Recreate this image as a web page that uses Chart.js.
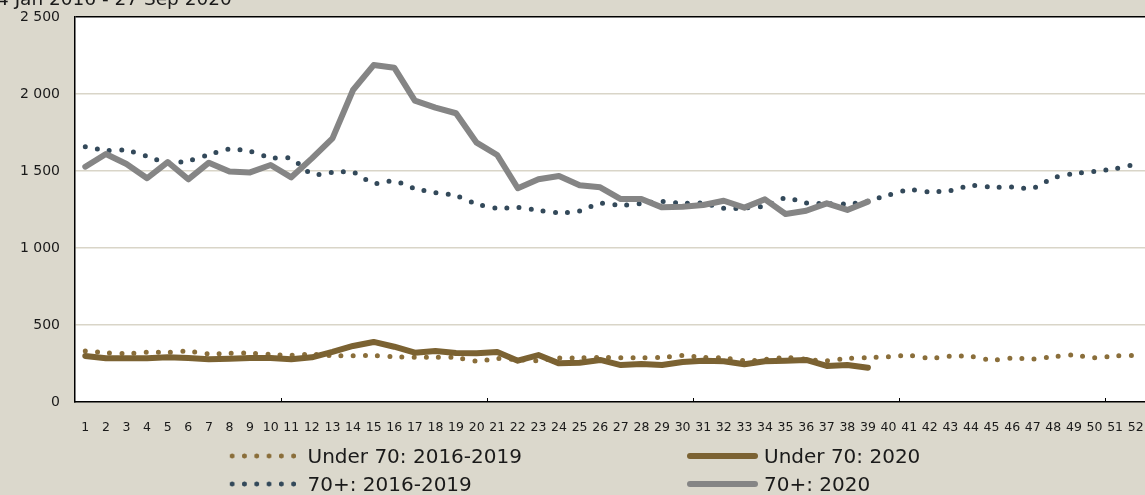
<!DOCTYPE html>
<html>
<head>
<meta charset="utf-8">
<script src="https://cdn.jsdelivr.net/npm/chart.js@4.4.1/dist/chart.umd.min.js"></script>
<style>
    html, body {
        margin: 0;
        padding: 0;
        width: 1145px;
        height: 495px;
        overflow: hidden;
        background: #dbd8cc;
        font-family: "DejaVu Sans", sans-serif;
    }
    #wrap {
        position: absolute;
        left: 0;
        top: 0;
        width: 1160px;
        height: 495px;
    }
    #title {
        position: absolute;
        left: -3px;
        top: -12px;
        font-size: 18.5px;
        color: #1a1a1a;
        white-space: nowrap;
    }
    .item {
        position: absolute;
        height: 24px;
        display: flex;
        align-items: center;
        font-size: 20px;
        color: #1a1a1a;
        white-space: nowrap;
    }
    .dots {
        height: 6px;
        width: 74px;
        margin-right: 8px;
        background-repeat: repeat-x;
        background-size: 12.3px 6px;
    }
    .solid {
        height: 6px;
        width: 71px;
        margin-right: 6px;
        border-radius: 3px;
    }
</style>
</head>
<body>
<div id="wrap"><canvas id="chart" width="1160" height="495"></canvas></div>
<div id="title">4 Jan 2016 - 27 Sep 2020</div>
<div id="legend"></div>
<script>
// Week numbers
const weeks = [];
for (let i = 1; i <= 52; i++) weeks.push(String(i));

// Weekly deaths, averages 2016-2019 (full year)
const under70Avg = [331, 320, 314, 324, 322, 330, 312, 316, 317, 309, 303, 310, 301, 301, 301, 294, 290, 290, 288, 265,
    282, 275, 268, 286, 286, 290, 288, 288, 290, 302, 290, 286, 268, 276, 288, 277, 268, 283, 288, 294,
    302, 285, 298, 295, 273, 285, 279, 294, 305, 287, 300, 303];
const over70Avg = [1658, 1634, 1634, 1595, 1555, 1567, 1605, 1642, 1627, 1587, 1580, 1481, 1490, 1492, 1420, 1435, 1386, 1360, 1340, 1286,
    1258, 1263, 1244, 1229, 1240, 1290, 1277, 1289, 1302, 1290, 1290, 1258, 1260, 1273, 1325, 1292, 1289, 1286, 1305, 1344,
    1377, 1365, 1373, 1405, 1395, 1396, 1388, 1455, 1483, 1497, 1515, 1545];

// Weekly deaths 2020 (up to week 39)
const under70_2020 = [299, 284, 284, 284, 290, 286, 277, 281, 286, 286, 277, 290, 325, 364, 390, 359, 320, 331, 318, 316,
    325, 268, 305, 251, 255, 273, 240, 247, 240, 260, 268, 264, 245, 264, 268, 273, 234, 240, 223];
const over70_2020 = [1528, 1610, 1545, 1453, 1558, 1446, 1554, 1496, 1491, 1539, 1459, 1582, 1712, 2026, 2188, 2171, 1957, 1911, 1875, 1684,
    1604, 1388, 1446, 1468, 1407, 1394, 1318, 1318, 1264, 1268, 1279, 1307, 1262, 1316, 1221, 1242, 1290, 1247, 1301];

const seriesNames = ['Under 70: 2016-2019', 'Under 70: 2020', '70+: 2016-2019', '70+: 2020'];
const colors = {
    under70Avg: '#8a6e3a',
    under70: '#7b6232',
    over70Avg: '#33495a',
    over70: '#858585'
};

// Format numbers with a space as thousands separator
function formatTick(v) {
    if (v >= 1000) {
        return Math.floor(v / 1000) + ' ' + String(v % 1000).padStart(3, '0');
    }
    return String(v);
}

// White plot area
const plotBackground = {
    id: 'plotBackground',
    beforeDraw(chart) {
        const a = chart.chartArea;
        const ctx = chart.ctx;
        ctx.save();
        ctx.fillStyle = '#ffffff';
        ctx.fillRect(a.left, a.top, a.right - a.left, a.bottom - a.top);
        ctx.restore();
    }
};

// Small tick marks inside the plot every 10 weeks
const innerTicks = {
    id: 'innerTicks',
    afterDatasetsDraw(chart) {
        const x = chart.scales.x;
        const ctx = chart.ctx;
        const bottom = chart.chartArea.bottom;
        ctx.save();
        ctx.strokeStyle = '#000';
        ctx.lineWidth = 1;
        for (let i = 10; i < weeks.length; i += 10) {
            const px = Math.round((x.getPixelForValue(i - 1) + x.getPixelForValue(i)) / 2) + 0.5;
            ctx.beginPath();
            ctx.moveTo(px, bottom);
            ctx.lineTo(px, bottom - 4);
            ctx.stroke();
        }
        ctx.restore();
    }
};

const dotted = (label, data, color, order) => ({
    label: label,
    data: data,
    borderColor: color,
    borderWidth: 5,
    borderDash: [0, 12.2],
    borderCapStyle: 'round',
    pointRadius: 0,
    tension: 0.3,
    fill: false,
    order: order
});

const solid = (label, data, color, order) => ({
    label: label,
    data: data,
    borderColor: color,
    borderWidth: 6,
    borderCapStyle: 'round',
    borderJoinStyle: 'round',
    pointRadius: 0,
    tension: 0,
    fill: false,
    order: order
});

new Chart(document.getElementById('chart').getContext('2d'), {
    type: 'line',
    data: {
        labels: weeks,
        datasets: [
            dotted(seriesNames[0], under70Avg, colors.under70Avg, 3),
            solid(seriesNames[1], under70_2020, colors.under70, 2),
            dotted(seriesNames[2], over70Avg, colors.over70Avg, 1),
            solid(seriesNames[3], over70_2020, colors.over70, 0)
        ]
    },
    options: {
        responsive: false,
        animation: false,
        layout: {
            padding: { top: 17, right: 14, bottom: 0, left: 0 }
        },
        plugins: {
            legend: { display: false },
            tooltip: { enabled: false }
        },
        scales: {
            x: {
                offset: true,
                grid: { display: false },
                border: { display: true, color: '#000', width: 1.5 },
                ticks: {
                    color: '#1a1a1a',
                    font: { family: 'DejaVu Sans', size: 12.5 },
                    padding: 10,
                    maxRotation: 0,
                    autoSkip: false
                },
                afterFit(scale) { scale.height = 93; }
            },
            y: {
                min: 0,
                max: 2500,
                grid: {
                    color: ctx => ctx.tick && ctx.tick.value === 2500 ? '#000' : '#d9d5c8',
                    lineWidth: 1.5,
                    drawTicks: false
                },
                border: { display: true, color: '#000', width: 1.5 },
                ticks: {
                    stepSize: 500,
                    color: '#1a1a1a',
                    font: { family: 'DejaVu Sans', size: 14 },
                    padding: 15,
                    callback: v => formatTick(v)
                },
                afterFit(scale) {
                    // fixed axis width, no extra room for the end labels
                    scale.width = 75;
                    scale.paddingTop = 0;
                    scale.paddingBottom = 0;
                }
            }
        }
    },
    plugins: [plotBackground, innerTicks]
});

// Legend in two columns below the chart
const legendItems = [
    { name: seriesNames[0], color: colors.under70Avg, dots: true, left: 225.5, center: 456 },
    { name: seriesNames[1], color: colors.under70, dots: false, left: 687, center: 456 },
    { name: seriesNames[2], color: colors.over70Avg, dots: true, left: 225.5, center: 484 },
    { name: seriesNames[3], color: colors.over70, dots: false, left: 687, center: 484 }
];
const legend = document.getElementById('legend');
legendItems.forEach(item => {
    const el = document.createElement('div');
    el.className = 'item';
    el.style.left = item.left + 'px';
    el.style.top = (item.center - 12) + 'px';
    const sample = document.createElement('div');
    if (item.dots) {
        sample.className = 'dots';
        sample.style.backgroundImage = `radial-gradient(circle at center, ${item.color} 2.2px, transparent 2.8px)`;
    } else {
        sample.className = 'solid';
        sample.style.background = item.color;
    }
    const text = document.createElement('span');
    text.textContent = item.name;
    el.appendChild(sample);
    el.appendChild(text);
    legend.appendChild(el);
});
</script>
</body>
</html>
